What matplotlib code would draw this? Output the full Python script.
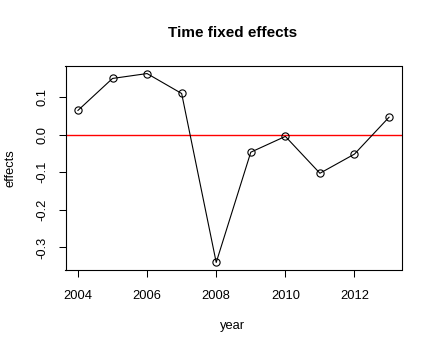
import numpy as np
import matplotlib
matplotlib.use("Agg")
import matplotlib.pyplot as plt

plt.rcParams['font.family'] = ['Liberation Sans', 'DejaVu Sans']

# values
years = [2004, 2005, 2006, 2007, 2008, 2009, 2010, 2011, 2012, 2013]
effects = [0.064, 0.149, 0.162, 0.109, -0.340, -0.047, -0.005, -0.103, -0.052, 0.046]
xticks = [2004, 2006, 2008, 2010, 2012]
yticks = [-0.3, -0.2, -0.1, 0.0, 0.1]

W, H = 436, 352
fig = plt.figure(figsize=(W / 100, H / 100), dpi=100)
ax = fig.add_axes([65.5 / W, 1 - 270 / H, 336 / W, 204 / H])

ax.plot(years, effects, color='black', lw=0.8, marker='o', ms=5.2,
        mfc='none', mec='black', mew=0.8, zorder=3)
ax.axhline(0, color='#ff0000', lw=1.0, zorder=2)

# R style 4% padding
pad_x = (max(years) - min(years)) * 0.04
pad_y = (max(effects) - min(effects)) * 0.04
ax.set_xlim(min(years) - pad_x, max(years) + pad_x)
ax.set_ylim(min(effects) - pad_y, max(effects) + pad_y)

ax.set_xticks(xticks)
ax.set_yticks(yticks)
ax.set_yticklabels(['%.1f' % v for v in yticks], rotation=90, va='center')
ax.tick_params(length=5.2, width=0.75, labelsize=9.3, pad=7)
ax.tick_params(axis='x', pad=9)
for s in ax.spines.values():
    s.set_linewidth(0.8)

fig.text(233 / W, 1 - 33 / H, 'Time fixed effects', ha='center', va='center',
         fontsize=11, fontweight='bold')
fig.text(233 / W, 1 - 326 / H, 'year', ha='center', va='center', fontsize=9.3)
fig.text(10 / W, 1 - 168 / H, 'effects', ha='center', va='center',
         fontsize=9.3, rotation=90)

fig.savefig('out.png', dpi=100)
